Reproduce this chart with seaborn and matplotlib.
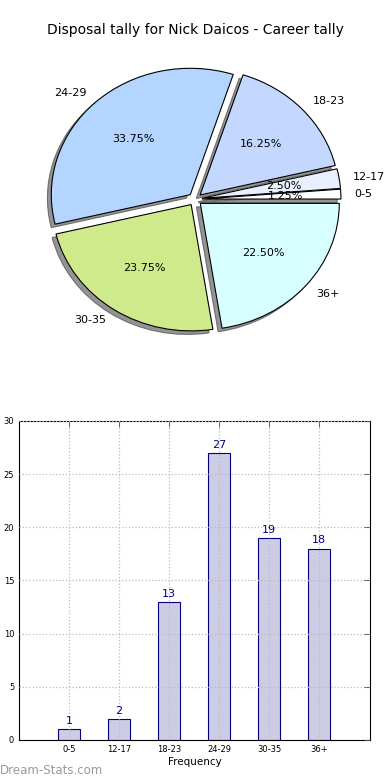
import matplotlib
matplotlib.use("Agg")
import matplotlib.pyplot as plt
import seaborn as sns
import pandas as pd

# data
categories = ["0-5", "12-17", "18-23", "24-29", "30-35", "36+"]
counts = [1, 2, 13, 27, 19, 18]
pie_colors = ["#ffffff", "#e8f0ff", "#c4d8ff", "#b3d5ff", "#cfea8a", "#d8ffff"]
y_ticks = [0, 5, 10, 15, 20, 25, 30]

df = pd.DataFrame({"Frequency": categories, "Tally": counts})

sns.set_style("white")
plt.rcParams["font.family"] = ["DejaVu Sans"]
plt.rcParams["text.color"] = "black"
plt.rcParams["axes.labelcolor"] = "black"
plt.rcParams["xtick.color"] = "black"
plt.rcParams["ytick.color"] = "black"

fig = plt.figure(figsize=(3.9, 7.8), dpi=100)

# pie
ax1 = fig.add_axes([0.0545, 0.542, 0.891, 0.405])
ax1.pie(df["Tally"], labels=df["Frequency"], colors=pie_colors,
        explode=[0.05] * len(counts), autopct="%1.2f%%", startangle=0,
        shadow={"ox": -0.02, "oy": -0.02, "facecolor": "#888888",
                "edgecolor": "#666666", "alpha": 0.9},
        wedgeprops={"edgecolor": "black", "linewidth": 0.8},
        textprops={"fontsize": 8, "color": "black"})
ax1.set_aspect("auto")
ax1.set_xlim(-1.25, 1.25)
ax1.set_ylim(-1.25, 1.25)
fig.text(0.5, 0.961, "Disposal tally for Nick Daicos - Career tally",
         ha="center", va="center", fontsize=10, color="black")

# bar
ax2 = fig.add_axes([0.0487, 0.0513, 0.9, 0.409])
sns.barplot(data=df, x="Frequency", y="Tally", ax=ax2, width=0.45,
            color=(0, 0, 0.5, 0.2), edgecolor="navy", linewidth=0.8,
            saturation=1)
for p, v in zip(ax2.patches, counts):
    ax2.text(p.get_x() + p.get_width() / 2, v + 0.3, str(v),
             ha="center", va="bottom", fontsize=8, color="navy")
ax2.set_xlim(-1, 6.02)
ax2.set_ylim(0, 30)
ax2.set_yticks(y_ticks)
ax2.grid(True, linestyle=":", color="#bbbbbb", linewidth=0.9)
ax2.set_axisbelow(False)
ax2.tick_params(labelsize=6, direction="in", top=True, right=True,
                length=4, width=0.6, color="#555555", labelcolor="black")
for s in ax2.spines.values():
    s.set_color("black")
    s.set_linewidth(0.8)
ax2.set_xlabel("Frequency", fontsize=7.5, labelpad=2)
ax2.set_ylabel("Disposal Tally", fontsize=7.5)
ax2.yaxis.set_label_coords(-0.055, 0.5)

fig.text(0.0, 0.012, "Dream-Stats.com", fontsize=8.5, color="#999999",
         ha="left", va="center")

fig.savefig("out.png", dpi=100)
